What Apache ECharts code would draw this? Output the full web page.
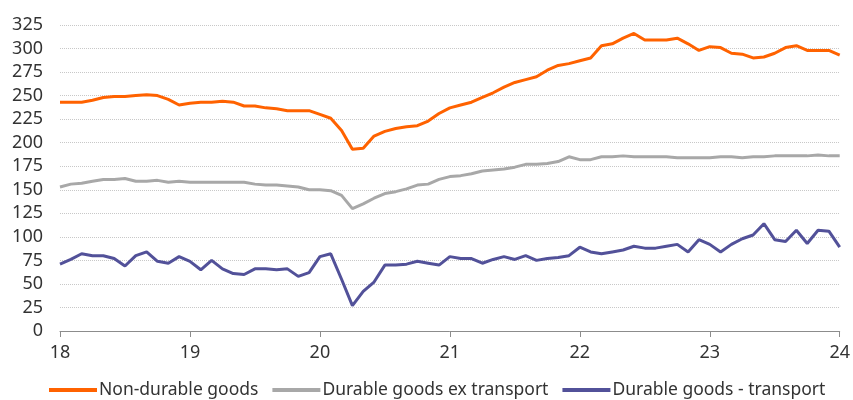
<!DOCTYPE html>
<html>
<head>
<meta charset="utf-8">
<script src="https://cdn.jsdelivr.net/npm/echarts@6/dist/echarts.min.js"></script>
<style>html,body{margin:0;padding:0;background:#fff;}#c{width:853px;height:400px;}</style>
</head>
<body>
<div id="c"></div>
<script>
var yearLabels = ['18','19','20','21','22','23','24'];
var seriesNames = ['Non-durable goods','Durable goods ex transport','Durable goods - transport'];
var nonDurable = [243,243,243,245,248,249,249,250,251,250,246,240,
  242,243,243,244,243,239,239,237,236,234,234,234,
  230,226,213,193,194,207,212,215,217,218,223,231,
  237,240,243,248,253,259,264,267,270,277,282,284,
  287,290,303,305,311,316,309,309,309,311,305,298,
  302,301,295,294,290,291,295,301,303,298,298,298,293];
var durableExTransport = [153,156,157,159,161,161,162,159,159,160,158,159,
  158,158,158,158,158,158,156,155,155,154,153,150,
  150,149,144,130,135,141,146,148,151,155,156,161,
  164,165,167,170,171,172,174,177,177,178,180,185,
  182,182,185,185,186,185,185,185,185,184,184,184,
  184,185,185,184,185,185,186,186,186,186,187,186,186];
var durableTransport = [71,76,82,80,80,77,69,80,84,74,72,79,
  74,65,75,66,61,60,66,66,65,66,58,62,
  79,82,55,27,42,52,70,70,71,74,72,70,
  79,77,77,72,76,79,76,80,75,77,78,80,
  89,84,82,84,86,90,88,88,90,92,84,97,
  92,84,92,98,102,114,97,95,107,93,107,106,89];

var categories = [];
for (var y = 0; y < yearLabels.length; y++) {
  var n = (y === yearLabels.length - 1) ? 1 : 12;
  for (var m = 0; m < n; m++) {
    categories.push(m === 0 ? yearLabels[y] : yearLabels[y] + '-' + (m + 1));
  }
}

var colors = ['#FF6200', '#A8A8A8', '#525199'];
var chart = echarts.init(document.getElementById('c'), null, {renderer: 'canvas'});
var font = '"Noto Sans", sans-serif';
function mk(name, data, color) {
  return {name: name, type: 'line', data: data, symbol: 'none', smooth: false,
    lineStyle: {color: color, width: 3}, itemStyle: {color: color}};
}
chart.setOption({
  animation: false,
  grid: {left: 60, right: 10, top: 25, bottom: 69, containLabel: false},
  legend: {
    top: 376, left: 44, icon: 'rect', itemWidth: 48, itemHeight: 4, itemGap: 14,
    textStyle: {fontFamily: font, fontSize: 17.5, color: '#333', padding: [0, 0, 0, -3]},
    data: seriesNames
  },
  xAxis: {
    type: 'category', data: categories, boundaryGap: false,
    axisLine: {lineStyle: {color: '#8c8c8c', width: 1}},
    axisTick: {show: true, interval: 11, length: 6, lineStyle: {color: '#8c8c8c'}},
    axisLabel: {interval: 11, margin: 13, fontFamily: font, fontSize: 18, color: '#333',
      formatter: function (v) { return v.indexOf('-') >= 0 ? '' : v; }},
    splitLine: {show: false}
  },
  yAxis: {
    type: 'value', min: 0, max: 325, interval: 25,
    axisLine: {show: false}, axisTick: {show: false},
    axisLabel: {fontFamily: font, fontSize: 18, color: '#333', margin: 17},
    splitLine: {lineStyle: {color: '#c8c8c8', width: 1, type: 'dotted'}}
  },
  series: [
    mk(seriesNames[0], nonDurable, colors[0]),
    mk(seriesNames[1], durableExTransport, colors[1]),
    mk(seriesNames[2], durableTransport, colors[2])
  ]
});
</script>
</body>
</html>
